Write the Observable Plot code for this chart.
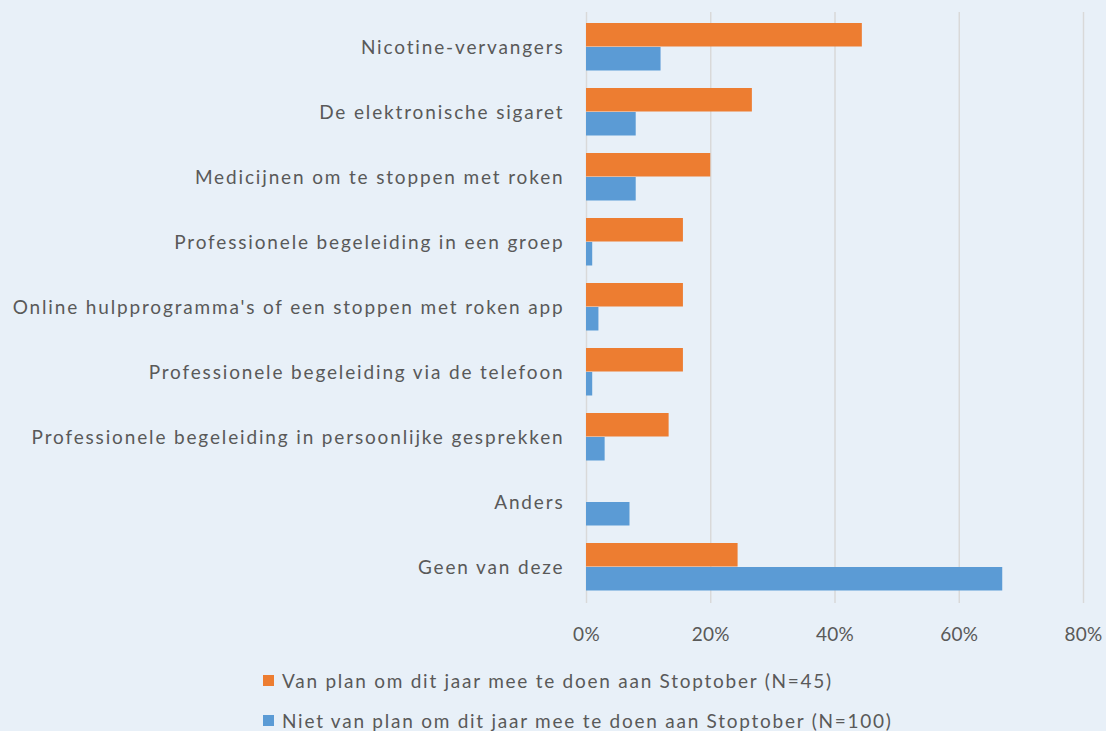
<!DOCTYPE html>
<html>
<head>
<meta charset="utf-8">
<script src="https://cdn.jsdelivr.net/npm/d3@7"></script>
<script src="https://cdn.jsdelivr.net/npm/@observablehq/plot@0.6"></script>
<style>
  html, body { margin: 0; padding: 0; background: #e8f0f8; }
  body { width: 1106px; height: 731px; overflow: hidden; font-family: Lato, "Open Sans", sans-serif; color: #595959; }
  #legend { padding-left: 263px; margin-top: 5px; }
  .item { display: flex; align-items: center; height: 40px; font-size: 19px; letter-spacing: 1.75px; }
  .sw { width: 11px; height: 11px; margin-right: 8px; }
  g[aria-label="y-axis tick label"] { font-size: 19px; letter-spacing: 1.85px; }
  g[aria-label="x-axis tick label"] { font-size: 19px; letter-spacing: 0.3px; }
</style>
</head>
<body>
<div id="chart"></div>
<div id="legend"></div>
<script>
const categories = [
  "Nicotine-vervangers",
  "De elektronische sigaret",
  "Medicijnen om te stoppen met roken",
  "Professionele begeleiding in een groep",
  "Online hulpprogramma's of een stoppen met roken app",
  "Professionele begeleiding via de telefoon",
  "Professionele begeleiding in persoonlijke gesprekken",
  "Anders",
  "Geen van deze"
];
const seriesNames = [
  "Van plan om dit jaar mee te doen aan Stoptober (N=45)",
  "Niet van plan om dit jaar mee te doen aan Stoptober (N=100)"
];
const planValues = [44.4, 26.7, 20.0, 15.6, 15.6, 15.6, 13.3, 0, 24.4];
const nietValues = [12, 8, 8, 1, 2, 1, 3, 7, 67];
const xTicks = [0, 20, 40, 60, 80];
const colors = ["#ED7D31", "#5B9BD5"];

const planRows = categories.map((c, i) => ({category: c, value: planValues[i]}));
const nietRows = categories.map((c, i) => ({category: c, value: nietValues[i]}));

const chart = Plot.plot({
  width: 1106,
  height: 655,
  marginLeft: 586,
  marginRight: 23,
  marginTop: 12,
  marginBottom: 52,
  style: {background: "#e8f0f8", color: "#595959", fontFamily: "Lato, 'Open Sans', sans-serif", fontSize: "18px"},
  x: {domain: [0, 80], ticks: xTicks, tickFormat: d => d + "%", tickSize: 0, tickPadding: 24, label: null},
  y: {domain: categories, padding: 0, tickSize: 0, tickPadding: 22, label: null},
  marks: [
    Plot.ruleX(xTicks, {stroke: "#d9d9d9", strokeWidth: 1.5}),
    Plot.barX(planRows, {x: "value", y: "category", fill: colors[0], insetTop: 8, insetBottom: 33.5}),
    Plot.barX(nietRows, {x: "value", y: "category", fill: colors[1], insetTop: 32, insetBottom: 9.5})
  ]
});
document.getElementById("chart").appendChild(chart);

const legend = document.getElementById("legend");
seriesNames.forEach((name, i) => {
  const item = document.createElement("div");
  item.className = "item";
  const sw = document.createElement("span");
  sw.className = "sw";
  sw.style.background = colors[i];
  const t = document.createElement("span");
  t.textContent = name;
  item.appendChild(sw);
  item.appendChild(t);
  legend.appendChild(item);
});
</script>
</body>
</html>
